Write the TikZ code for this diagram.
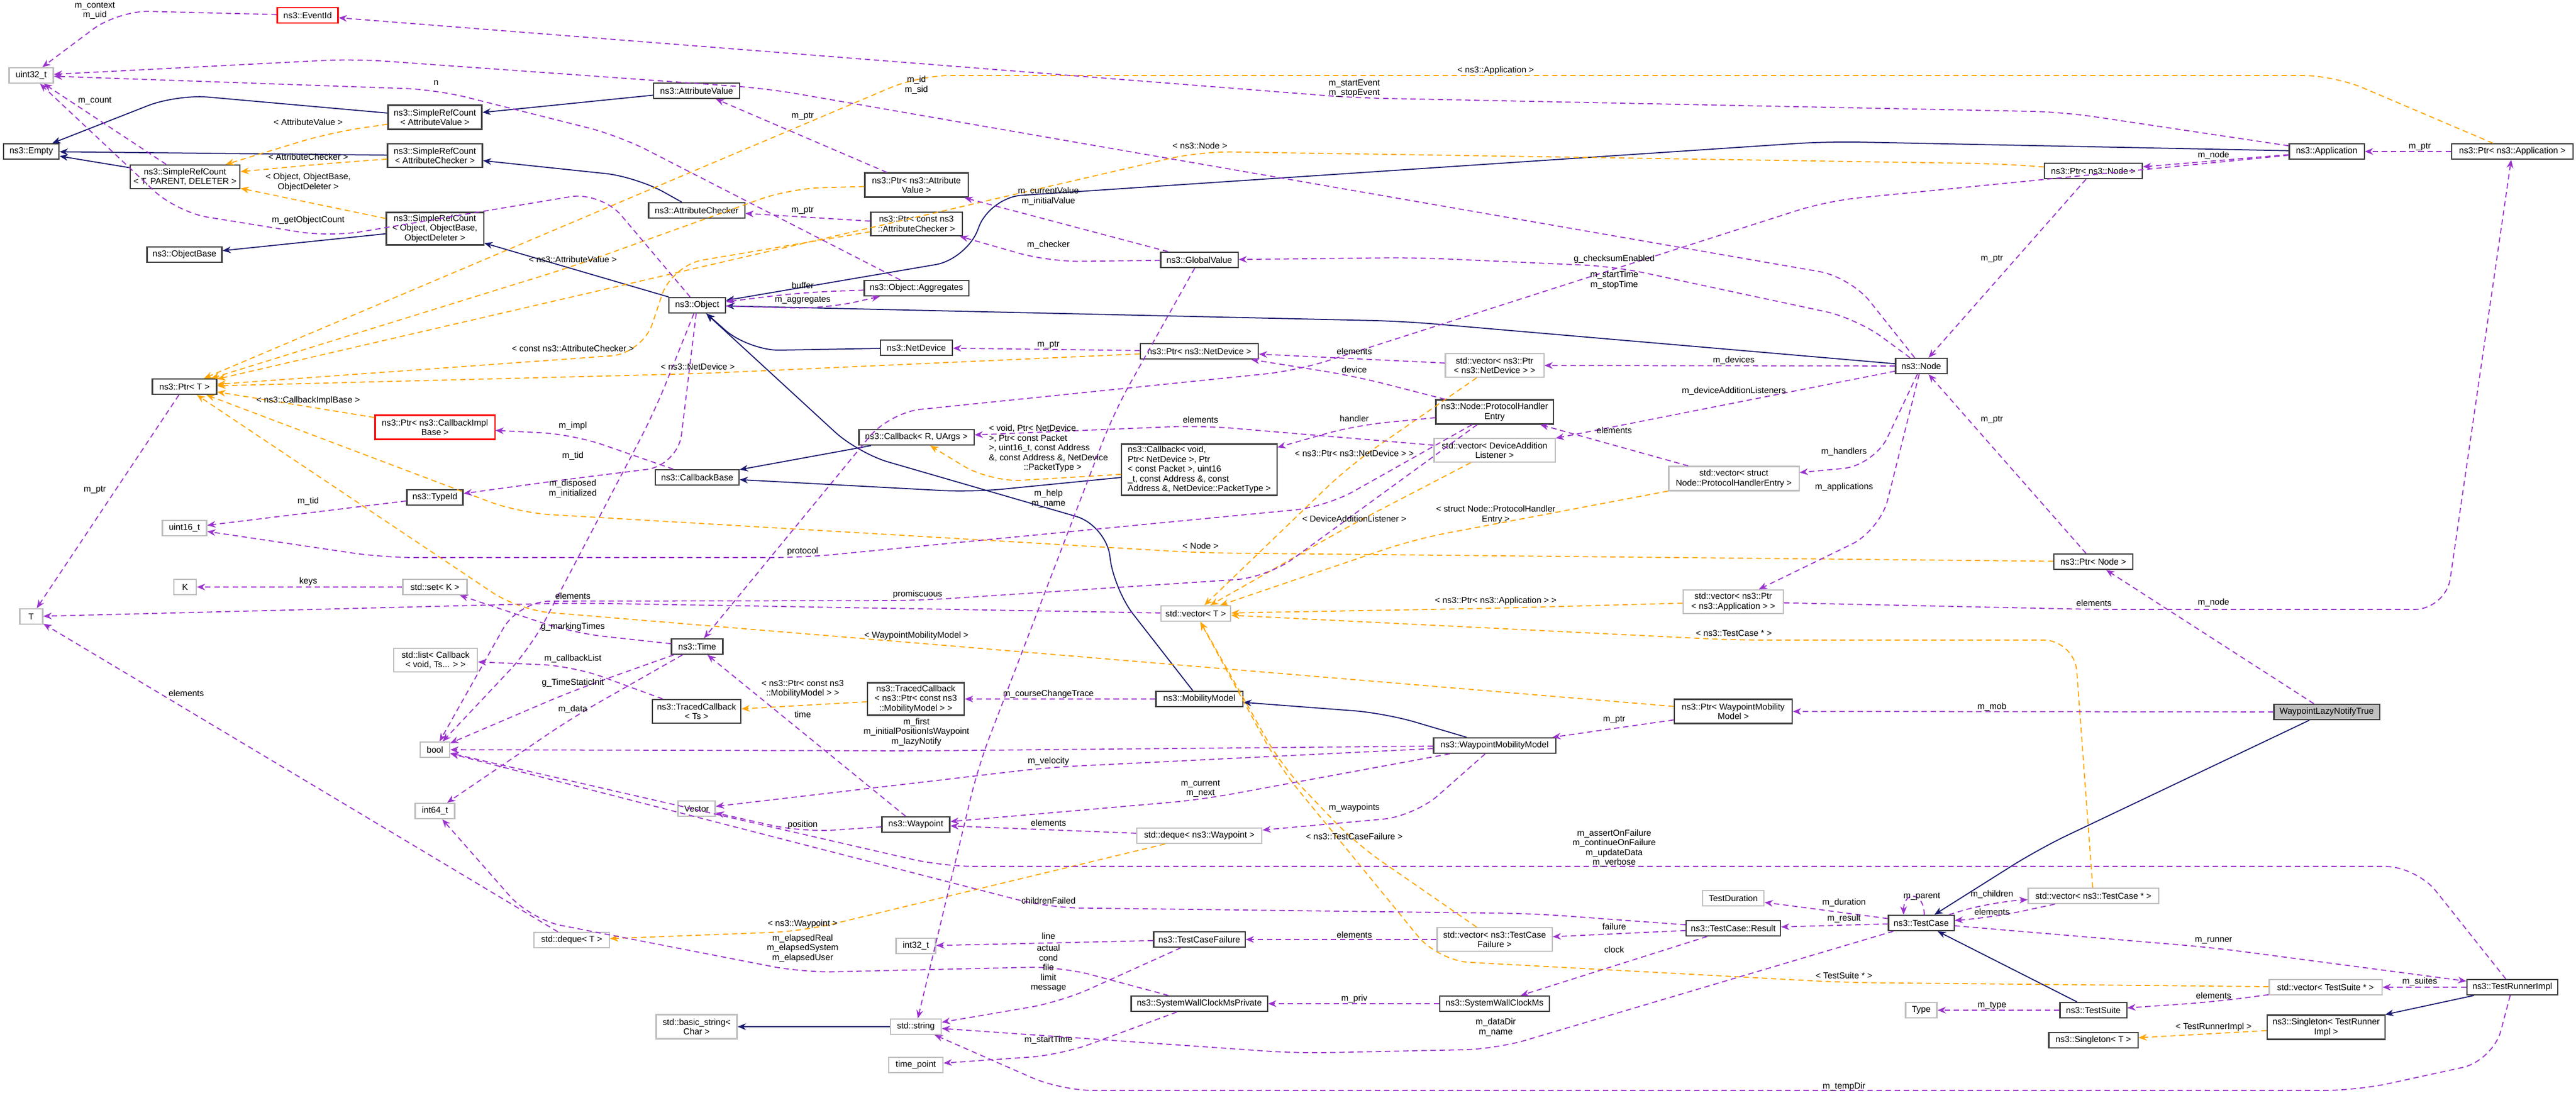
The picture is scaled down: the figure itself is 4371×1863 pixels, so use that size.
\documentclass[tikz,border=0pt]{standalone}
\usepackage{fontspec}
\setmainfont{Liberation Sans}
\usetikzlibrary{arrows.meta,calc}
\definecolor{inhc}{HTML}{191970}
\definecolor{usec}{HTML}{9A32CD}
\definecolor{tplc}{HTML}{FFA500}
\tikzset{
 bx/.style={draw=black!75,line width=0.6pt,fill=white,align=center,inner sep=1pt,minimum height=0.26cm,font=\fontsize{4.2}{4.7}\selectfont},
 gbx/.style={bx,draw=black!25},
 rbx/.style={bx,draw=red},
 lb/.style={align=center,inner sep=0pt,font=\fontsize{4.2}{4.7}\selectfont},
 inh/.style={draw=inhc,line width=0.5pt,-{Stealth[length=4pt,width=3.2pt]},rounded corners=15pt},
 use/.style={draw=usec,line width=0.5pt,dash pattern=on 2.6pt off 1.8pt,-{Stealth[length=4pt,width=3.2pt]},rounded corners=15pt},
 tpl/.style={draw=tplc,line width=0.5pt,dash pattern=on 2.6pt off 1.8pt,-{Stealth[length=4pt,width=3.2pt]},rounded corners=15pt},
}
\begin{document}
\begin{tikzpicture}[x=0.01cm,y=-0.01cm]
\useasboundingbox (0,0) rectangle (4371,1863);
% nodes
\node[rbx,minimum width=1.03cm] (eventid) at (522,26) {ns3::EventId};
\node[gbx,minimum width=0.75cm] (u32) at (53,128) {uint32\_t};
\node[bx,minimum width=0.94cm] (empty) at (53,257) {ns3::Empty};
\node[bx,minimum width=1.59cm,minimum height=0.41cm] (srcav) at (738,199) {ns3::SimpleRefCount\\< AttributeValue >};
\node[bx,minimum width=1.61cm,minimum height=0.40cm] (srcac) at (738,264) {ns3::SimpleRefCount\\< AttributeChecker >};
\node[bx,minimum width=1.86cm,minimum height=0.40cm] (srctpd) at (314,300) {ns3::SimpleRefCount\\< T, PARENT, DELETER >};
\node[bx,minimum width=1.65cm,minimum height=0.55cm] (srcobj) at (738,388) {ns3::SimpleRefCount\\< Object, ObjectBase,\\ ObjectDeleter >};
\node[bx,minimum width=1.27cm] (objbase) at (313,432) {ns3::ObjectBase};
\node[bx,minimum width=1.09cm] (ptrt) at (313,656) {ns3::Ptr< T >};
\node[rbx,minimum width=2.03cm,minimum height=0.41cm] (ptrcib) at (738,725) {ns3::Ptr< ns3::CallbackImpl\\Base >};
\node[bx,minimum width=0.95cm] (typeid) at (738,844) {ns3::TypeId};
\node[gbx,minimum width=0.75cm] (u16) at (313,896) {uint16\_t};
\node[gbx,minimum width=0.38cm] (K) at (314,996) {K};
\node[gbx,minimum width=1.09cm] (setk) at (738,996) {std::set< K >};
\node[gbx,minimum width=0.39cm] (T) at (53,1046) {T};
\node[gbx,minimum width=1.42cm,minimum height=0.40cm] (list) at (739,1120) {std::list< Callback\\< void, Ts... > >};
\node[gbx,minimum width=0.50cm] (bool) at (738,1272) {bool};
\node[gbx,minimum width=0.67cm] (int64) at (738,1376) {int64\_t};
\node[gbx,minimum width=1.28cm] (dequet) at (970,1595) {std::deque< T >};
\node[bx,minimum width=1.46cm] (attrval) at (1182,154) {ns3::AttributeValue};
\node[bx,minimum width=1.63cm] (attrchk) at (1182,357) {ns3::AttributeChecker};
\node[bx,minimum width=1.75cm,minimum height=0.41cm] (ptrav) at (1555,314) {ns3::Ptr< ns3::Attribute\\Value >};
\node[bx,minimum width=1.55cm,minimum height=0.40cm] (ptrac) at (1555,380) {ns3::Ptr< const ns3\\::AttributeChecker >};
\node[bx,minimum width=0.96cm] (object) at (1183,518) {ns3::Object};
\node[bx,minimum width=1.77cm] (aggr) at (1555,489) {ns3::Object::Aggregates};
\node[bx,minimum width=1.31cm] (globalv) at (2035,441) {ns3::GlobalValue};
\node[bx,minimum width=1.22cm] (netdev) at (1555,590) {ns3::NetDevice};
\node[bx,minimum width=2.00cm] (ptrnd) at (2035,596) {ns3::Ptr< ns3::NetDevice >};
\node[bx,minimum width=1.95cm] (cbr) at (1555,742) {ns3::Callback< R, UArgs >};
\node[bx,minimum width=1.42cm] (cbbase) at (1183,810) {ns3::CallbackBase};
\node[bx,minimum width=2.63cm,minimum height=0.84cm,align=left] (cbvoid) at (2035,797) {ns3::Callback< void,\\ Ptr< NetDevice >, Ptr\\< const Packet >, uint16\\\_t, const Address \&, const\\ Address \&, NetDevice::PacketType >};
\node[gbx,minimum width=1.18cm] (vect) at (2029,1041) {std::vector< T >};
\node[bx,minimum width=0.87cm] (time) at (1183,1097) {ns3::Time};
\node[bx,minimum width=1.50cm,minimum height=0.40cm] (tcts) at (1182,1207) {ns3::TracedCallback\\< Ts >};
\node[bx,minimum width=1.64cm,minimum height=0.55cm] (tcmm) at (1554,1186) {ns3::TracedCallback\\< ns3::Ptr< const ns3\\::MobilityModel > >};
\node[bx,minimum width=1.47cm] (mobm) at (2035,1186) {ns3::MobilityModel};
\node[gbx,minimum width=0.63cm] (vector) at (1182,1372) {Vector};
\node[bx,minimum width=1.15cm] (waypoint) at (1554,1399) {ns3::Waypoint};
\node[gbx,minimum width=2.12cm] (dequew) at (2035,1418) {std::deque< ns3::Waypoint >};
\node[gbx,minimum width=0.67cm] (int32) at (1554,1605) {int32\_t};
\node[bx,minimum width=1.55cm] (tcf) at (2035,1594) {ns3::TestCaseFailure};
\node[bx,minimum width=2.31cm] (swcmp) at (2035,1703) {ns3::SystemWallClockMsPrivate};
\node[gbx,minimum width=1.37cm,minimum height=0.41cm] (bstr) at (1182,1742) {std::basic\_string<\\ Char >};
\node[gbx,minimum width=0.86cm] (str) at (1554,1742) {std::string};
\node[gbx,minimum width=0.92cm] (tpoint) at (1554,1807) {time\_point};
\node[gbx,minimum width=1.67cm,minimum height=0.40cm] (vecpnd) at (2536,620) {std::vector< ns3::Ptr\\< ns3::NetDevice > >};
\node[bx,minimum width=0.87cm] (node) at (3260,621) {ns3::Node};
\node[bx,minimum width=1.99cm,minimum height=0.41cm] (phe) at (2536,699) {ns3::Node::ProtocolHandler\\Entry};
\node[gbx,minimum width=2.05cm,minimum height=0.40cm] (vecdal) at (2536,764) {std::vector< DeviceAddition\\Listener >};
\node[gbx,minimum width=2.21cm,minimum height=0.41cm] (vecphe) at (2942,812) {std::vector< struct\\ Node::ProtocolHandlerEntry >};
\node[gbx,minimum width=1.70cm,minimum height=0.40cm] (vecpapp) at (2941,1021) {std::vector< ns3::Ptr\\< ns3::Application > >};
\node[bx,minimum width=2.00cm,minimum height=0.41cm] (ptrwmm) at (2941,1207) {ns3::Ptr< WaypointMobility\\Model >};
\node[bx,minimum width=2.07cm] (wmm) at (2536,1265) {ns3::WaypointMobilityModel};
\node[gbx,minimum width=1.04cm] (tdur) at (2941,1524) {TestDuration};
\node[bx,minimum width=1.60cm] (result) at (2941,1575) {ns3::TestCase::Result};
\node[gbx,minimum width=1.95cm,minimum height=0.40cm] (vectcf) at (2536,1594) {std::vector< ns3::TestCase\\Failure >};
\node[bx,minimum width=1.86cm] (swcm) at (2536,1703) {ns3::SystemWallClockMs};
\node[bx,minimum width=1.11cm] (testcase) at (3260,1566) {ns3::TestCase};
\node[gbx,minimum width=0.53cm] (type) at (3260,1714) {Type};
\node[bx,minimum width=1.27cm] (app) at (3948,257) {ns3::Application};
\node[bx,minimum width=2.06cm] (ptrapp) at (4263,257) {ns3::Ptr< ns3::Application >};
\node[bx,minimum width=1.66cm] (ptrnsnode) at (3552,290) {ns3::Ptr< ns3::Node >};
\node[bx,minimum width=1.34cm] (ptrnode) at (3552,953) {ns3::Ptr< Node >};
\node[bx,fill=black!25,minimum width=1.79cm] (wlnt) at (3948,1208) {WaypointLazyNotifyTrue};
\node[gbx,minimum width=2.21cm] (vectc) at (3552,1520) {std::vector< ns3::TestCase * >};
\node[bx,minimum width=1.54cm] (tri) at (4263,1675) {ns3::TestRunnerImpl};
\node[gbx,minimum width=1.91cm] (vects) at (3946,1675) {std::vector< TestSuite * >};
\node[bx,minimum width=1.13cm] (tsuite) at (3552,1714) {ns3::TestSuite};
\node[bx,minimum width=2.00cm,minimum height=0.41cm] (singtri) at (3947,1743) {ns3::Singleton< TestRunner\\Impl >};
\node[bx,minimum width=1.51cm] (singt) at (3552,1765) {ns3::Singleton< T >};
% inheritance
\draw[inh] (srcav) -- (300,160) -- (empty);
\draw[inh] (srcac) -- (empty);
\draw[inh] (srctpd) -- (empty);
\draw[inh] (attrval) -- (srcav);
\draw[inh] (attrchk) -- (1080,300) -- (srcac);
\draw[inh] (srcobj) -- (objbase);
\draw[inh] (object) -- (srcobj);
\draw[inh] (app) -- (3100,240) -- (1680,335) -- (1640,440) -- (object);
\draw[inh] (node) -- (2380,545) -- (object);
\draw[inh] (netdev) -- (1270,595) -- (object);
\draw[inh] (mobm) -- (1890,1000) -- (1877,891) -- (1456,769) -- (object);
\draw[inh] (cbr) -- (cbbase);
\draw[inh] (cbvoid) -- (1650,835) -- (cbbase);
\draw[inh] (wmm) -- (2350,1210) -- (mobm);
\draw[inh] (str) -- (bstr);
\draw[inh] (wlnt) -- (3460,1440) -- (testcase);
\draw[inh] (tsuite) -- (testcase);
\draw[inh] (tri) -- (singtri);
% templates
\draw[tpl] (srcav) -- (560,225) -- (srctpd);
\draw[tpl] (srcac) -- (560,277) -- (srctpd);
\draw[tpl] (srcobj) -- (srctpd);
\draw[tpl] (ptrapp) -- (3960,128) -- (1560,128) -- (ptrt);
\draw[tpl] (ptrnsnode) -- (3400,278) -- (2036,257) -- (ptrt);
\draw[tpl] (ptrav) -- (1340,320) -- (972,452) -- (ptrt);
\draw[tpl] (ptrac) -- (1140,450) -- (1090,600) -- (ptrt);
\draw[tpl] (ptrnd) -- (1184,634) -- (ptrt);
\draw[tpl] (ptrcib) -- (ptrt);
\draw[tpl] (ptrnode) -- (2037,938) -- (880,870) -- (ptrt);
\draw[tpl] (ptrwmm) -- (1555,1091) -- (880,1035) -- (ptrt);
\draw[tpl] (cbvoid) -- (1680,818) -- (cbr);
\draw[tpl] (tcmm) -- (tcts);
\draw[tpl] (vecpnd) -- (2290,790) -- (vect);
\draw[tpl] (vecdal) -- (2290,892) -- (vect);
\draw[tpl] (vecphe) -- (2400,915) -- (vect);
\draw[tpl] (vecpapp) -- (2538,1032) -- (vect);
\draw[tpl] (vectc) -- (3520,1086) -- (2942,1086) -- (vect);
\draw[tpl] (vectcf) -- (2300,1431) -- (2175,1300) -- (vect);
\draw[tpl] (vects) -- (3129,1667) -- (2440,1630) -- (2170,1300) -- (vect);
\draw[tpl] (dequew) -- (1362,1580) -- (dequet);
\draw[tpl] (singtri) -- (singt);
% usage
\draw[use] (eventid) -- (200,18) -- (u32);
\draw[use] (app) -- (3500,190) -- (2298,166) -- (eventid);
\draw[use] (node) -- (3140,470) -- (1300,150) -- (600,100) -- (u32);
\draw[use] (aggr) -- (1050,230) -- (740,152) -- (u32);
\draw[use] (srctpd) -- (u32);
\draw[use] (object) -- (1020,325) -- (560,402) -- (300,360) -- (u32);
\draw[use] (ptrt) -- (T);
\draw[use] (ptrav) -- (attrval);
\draw[use] (ptrac) -- (attrchk);
\draw[use] (object) -- (1400,524) -- (aggr);
\draw[use] (aggr) -- (1362,496) -- (object);
\draw[use] (globalv) -- (ptrav);
\draw[use] (globalv) -- (1779,444) -- (ptrac);
\draw[use] (node) -- (3150,540) -- (2739,452) -- (2400,437) -- (globalv);
\draw[use] (globalv) -- (1890,700) -- (1660,1300) -- (str);
\draw[use] (ptrnd) -- (netdev);
\draw[use] (node) -- (vecpnd);
\draw[use] (vecpnd) -- (ptrnd);
\draw[use] (phe) -- (2298,638) -- (ptrnd);
\draw[use] (phe) -- (2298,722) -- (cbvoid);
\draw[use] (phe) -- (2250,860) -- (1362,946) -- (650,946) -- (u16);
\draw[use] (phe) -- (2150,980) -- (1557,1019) -- (880,1020) -- (bool);
\draw[use] (vecdal) -- (2037,722) -- (cbr);
\draw[use] (node) -- (vecdal);
\draw[use] (vecphe) -- (phe);
\draw[use] (node) -- (3180,790) -- (vecphe);
\draw[use] (node) -- (3190,900) -- (vecpapp);
\draw[use] (vecpapp) -- (3553,1034) -- (4150,1034) -- (ptrapp);
\draw[use] (ptrapp) -- (app);
\draw[use] (app) -- (ptrnsnode);
\draw[use] (ptrnsnode) -- (node);
\draw[use] (ptrnode) -- (node);
\draw[use] (app) -- (3100,341) -- (2200,629) -- (1509,700) -- (time);
\draw[use] (cbbase) -- (972,737) -- (ptrcib);
\draw[use] (object) -- (1150,790) -- (972,812) -- (typeid);
\draw[use] (typeid) -- (u16);
\draw[use] (object) -- (1110,700) -- (900,1100) -- (bool);
\draw[use] (setk) -- (K);
\draw[use] (vect) -- (972,1023) -- (T);
\draw[use] (time) -- (972,1074) -- (setk);
\draw[use] (tcts) -- (972,1130) -- (list);
\draw[use] (time) -- (972,1172) -- (bool);
\draw[use] (time) -- (972,1217) -- (int64);
\draw[use] (dequet) -- (T);
\draw[use] (mobm) -- (tcmm);
\draw[use] (waypoint) -- (time);
\draw[use] (waypoint) -- (1362,1412) -- (vector);
\draw[use] (wmm) -- (1555,1274) -- (bool);
\draw[use] (wmm) -- (1779,1302) -- (vector);
\draw[use] (wmm) -- (2037,1357) -- (waypoint);
\draw[use] (dequew) -- (waypoint);
\draw[use] (wmm) -- (2400,1385) -- (dequew);
\draw[use] (ptrwmm) -- (wmm);
\draw[use] (wlnt) -- (ptrwmm);
\draw[use] (wlnt) -- (ptrnode);
\draw[use] (tri) -- (4100,1470) -- (1600,1470) -- (bool);
\draw[use] (result) -- (2600,1550) -- (1779,1540) -- (bool);
\draw[use] (swcmp) -- (1800,1640) -- (1362,1650) -- (900,1560) -- (int64);
\draw[use] (tcf) -- (1779,1600) -- (int32);
\draw[use] (tcf) -- (1800,1700) -- (str);
\draw[use] (swcmp) -- (1800,1790) -- (tpoint);
\draw[use] (swcm) -- (swcmp);
\draw[use] (vectcf) -- (tcf);
\draw[use] (result) -- (vectcf);
\draw[use] (result) -- (swcm);
\draw[use] (testcase) -- (tdur);
\draw[use] (testcase) -- (result);
\draw[use] ($(testcase.north)+(5,0)$) .. controls +(0,-40) and +(0,-40) .. ($(testcase.north)+(-30,0)$);
\draw[use] (testcase) -- (3380,1530) -- (vectc);
\draw[use] (vectc) -- (3380,1557) -- (testcase);
\draw[use] (testcase) -- (3756,1608) -- (tri);
\draw[use] (testcase) -- (2538,1780) -- (2200,1787) -- (str);
\draw[use] (tsuite) -- (type);
\draw[use] (vects) -- (3756,1700) -- (tsuite);
\draw[use] (tri) -- (vects);
\draw[use] (tri) -- (4230,1800) -- (4000,1850) -- (1800,1850) -- (str);
% labels
\node[lb] (l1) at (161,18) {m\_context\\m\_uid};
\node[lb] (l2) at (740,141) {n};
\node[lb] (l3) at (161,171) {m\_count};
\node[lb] (l4) at (523,207) {< AttributeValue >};
\node[lb] (l5) at (523,266) {< AttributeChecker >};
\node[lb] (l6) at (523,309) {< Object, ObjectBase,\\ObjectDeleter >};
\node[lb] (l7) at (523,374) {m\_getObjectCount};
\node[lb] (l8) at (972,440) {< ns3::AttributeValue >};
\node[lb] (l9) at (972,591) {< const ns3::AttributeChecker >};
\node[lb] (l10) at (523,680) {< ns3::CallbackImplBase >};
\node[lb] (l11) at (972,723) {m\_impl};
\node[lb] (l12) at (972,774) {m\_tid};
\node[lb] (l13) at (972,829) {m\_disposed\\m\_initialized};
\node[lb] (l14) at (161,831) {m\_ptr};
\node[lb] (l15) at (523,851) {m\_tid};
\node[lb] (l16) at (523,987) {keys};
\node[lb] (l17) at (972,1011) {elements};
\node[lb] (l18) at (972,1064) {g\_markingTimes};
\node[lb] (l19) at (972,1118) {m\_callbackList};
\node[lb] (l20) at (972,1159) {g\_TimeStaticInit};
\node[lb] (l21) at (316,1176) {elements};
\node[lb] (l22) at (972,1204) {m\_data};
\node[lb] (l23) at (1555,144) {m\_id\\m\_sid};
\node[lb] (l24) at (1362,197) {m\_ptr};
\node[lb] (l25) at (2036,247) {< ns3::Node >};
\node[lb] (l26) at (1779,333) {m\_currentValue\\m\_initialValue};
\node[lb] (l27) at (1362,357) {m\_ptr};
\node[lb] (l28) at (1779,416) {m\_checker};
\node[lb] (l29) at (1362,484) {buffer};
\node[lb] (l30) at (1362,509) {m\_aggregates};
\node[lb] (l31) at (1779,585) {m\_ptr};
\node[lb] (l32) at (1184,622) {< ns3::NetDevice >};
\node[lb] (l33) at (2037,712) {elements};
\node[lb,align=left] (l34) at (1779,761) {< void, Ptr< NetDevice\\>, Ptr< const Packet\\>, uint16\_t, const Address\\\&, const Address \&, NetDevice\\\hspace{4em}::PacketType >};
\node[lb] (l35) at (1779,846) {m\_help\\m\_name};
\node[lb] (l36) at (2298,769) {< ns3::Ptr< ns3::NetDevice > >};
\node[lb] (l37) at (2037,926) {< Node >};
\node[lb] (l38) at (1362,936) {protocol};
\node[lb] (l39) at (1557,1009) {promiscuous};
\node[lb] (l40) at (1555,1079) {< WaypointMobilityModel >};
\node[lb] (l41) at (1362,1169) {< ns3::Ptr< const ns3\\::MobilityModel > >};
\node[lb] (l42) at (1362,1212) {time};
\node[lb] (l43) at (1779,1178) {m\_courseChangeTrace};
\node[lb] (l44) at (1555,1242) {m\_first\\m\_initialPositionIsWaypoint\\m\_lazyNotify};
\node[lb] (l45) at (1779,1292) {m\_velocity};
\node[lb] (l46) at (2037,1338) {m\_current\\m\_next};
\node[lb] (l47) at (1779,1396) {elements};
\node[lb] (l48) at (1362,1400) {position};
\node[lb] (l49) at (1779,1528) {childrenFailed};
\node[lb] (l50) at (1362,1568) {< ns3::Waypoint >};
\node[lb] (l51) at (1362,1609) {m\_elapsedReal\\m\_elapsedSystem\\m\_elapsedUser};
\node[lb] (l52) at (1779,1588) {line};
\node[lb] (l53) at (1779,1643) {actual\\cond\\file\\limit\\message};
\node[lb] (l54) at (1779,1765) {m\_startTime};
\node[lb] (l55) at (2538,120) {< ns3::Application >};
\node[lb] (l56) at (2298,150) {m\_startEvent\\m\_stopEvent};
\node[lb] (l57) at (2739,440) {g\_checksumEnabled};
\node[lb] (l58) at (2739,475) {m\_startTime\\m\_stopTime};
\node[lb] (l59) at (2298,596) {elements};
\node[lb] (l60) at (2298,627) {device};
\node[lb] (l61) at (2942,612) {m\_devices};
\node[lb] (l62) at (2298,710) {handler};
\node[lb] (l63) at (2942,664) {m\_deviceAdditionListeners};
\node[lb] (l64) at (2739,730) {elements};
\node[lb] (l65) at (3129,767) {m\_handlers};
\node[lb] (l66) at (3129,827) {m\_applications};
\node[lb] (l67) at (2298,880) {< DeviceAdditionListener >};
\node[lb] (l68) at (2538,873) {< struct Node::ProtocolHandler\\Entry >};
\node[lb] (l69) at (2538,1020) {< ns3::Ptr< ns3::Application > >};
\node[lb] (l70) at (2942,1074) {< ns3::TestCase * >};
\node[lb] (l71) at (2739,1221) {m\_ptr};
\node[lb] (l72) at (2298,1371) {m\_waypoints};
\node[lb] (l73) at (2298,1419) {< ns3::TestCaseFailure >};
\node[lb] (l74) at (2739,1439) {m\_assertOnFailure\\m\_continueOnFailure\\m\_updateData\\m\_verbose};
\node[lb] (l75) at (3129,1532) {m\_duration};
\node[lb] (l76) at (3261,1521) {m\_parent};
\node[lb] (l77) at (3129,1559) {m\_result};
\node[lb] (l78) at (2739,1572) {failure};
\node[lb] (l79) at (2298,1586) {elements};
\node[lb] (l80) at (2739,1611) {clock};
\node[lb] (l81) at (3129,1655) {< TestSuite * >};
\node[lb] (l82) at (2298,1695) {m\_priv};
\node[lb] (l83) at (2538,1743) {m\_dataDir\\m\_name};
\node[lb] (l84) at (3129,1844) {m\_tempDir};
\node[lb] (l85) at (3756,264) {m\_node};
\node[lb] (l86) at (4106,249) {m\_ptr};
\node[lb] (l87) at (3380,439) {m\_ptr};
\node[lb] (l88) at (3380,712) {m\_ptr};
\node[lb] (l89) at (3553,1023) {elements};
\node[lb] (l90) at (3756,1023) {m\_node};
\node[lb] (l91) at (3380,1200) {m\_mob};
\node[lb] (l92) at (3380,1518) {m\_children};
\node[lb] (l93) at (3380,1547) {elements};
\node[lb] (l94) at (3756,1596) {m\_runner};
\node[lb] (l95) at (4106,1666) {m\_suites};
\node[lb] (l96) at (3756,1689) {elements};
\node[lb] (l97) at (3380,1706) {m\_type};
\node[lb] (l98) at (3756,1743) {< TestRunnerImpl >};
\end{tikzpicture}
\end{document}
